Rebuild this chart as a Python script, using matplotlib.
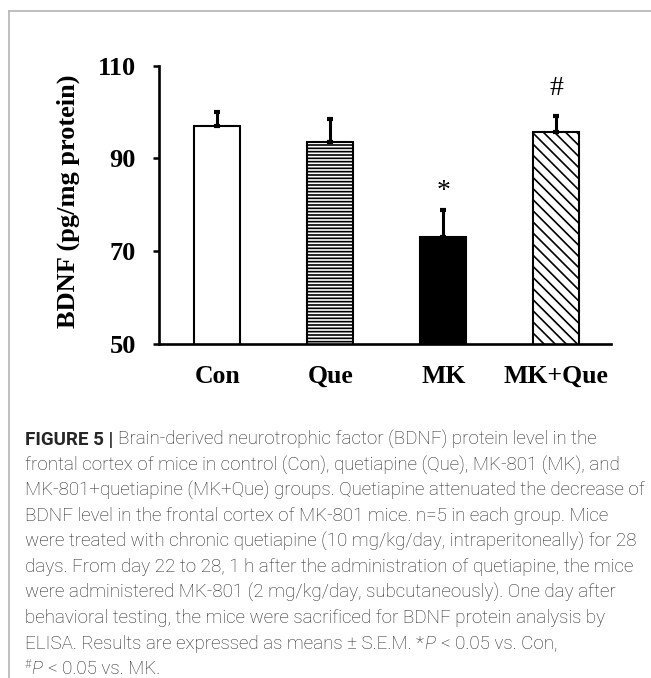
import matplotlib
matplotlib.use('Agg')
import matplotlib.pyplot as plt
from matplotlib.lines import Line2D

# ---- data ----
groups = ['Con', 'Que', 'MK', 'MK+Que']
means = [97.0, 93.6, 73.1, 95.6]
sems = [3.1, 4.9, 5.8, 3.6]
marks = ['', '', '*', '#']
yticks = [50, 70, 90, 110]

caption_lines = [
    [("FIGURE 5 |", 'b'), ("Brain-derived neurotrophic factor (BDNF) protein level in the", 'r')],
    [("frontal cortex of mice in control (Con), quetiapine (Que), MK-801 (MK), and", 'r')],
    [("MK-801+quetiapine (MK+Que) groups. Quetiapine attenuated the decrease of", 'r')],
    [("BDNF level in the frontal cortex of MK-801 mice. n=5 in each group. Mice", 'r')],
    [("were treated with chronic quetiapine (10 mg/kg/day, intraperitoneally) for 28", 'r')],
    [("days. From day 22 to 28, 1 h after the administration of quetiapine, the mice", 'r')],
    [("were administered MK-801 (2 mg/kg/day, subcutaneously). One day after", 'r')],
    [("behavioral testing, the mice were sacrificed for BDNF protein analysis by", 'r')],
    [("ELISA. Results are expressed as means \u00b1 S.E.M.", 'r'), ("*", 'r0'), ("P", 'i'), ("< 0.05 vs. Con,", 'r')],
    [("#", 'sup'), ("P", 'i'), ("< 0.05 vs. MK.", 'r')],
]

W, H = 651, 678
plt.rcParams['hatch.linewidth'] = 1.2
fig = plt.figure(figsize=(W / 100, H / 100), dpi=100)
fig.patch.set_facecolor('white')

# frame lines (top and left)
fig.add_artist(Line2D([9 / W, 1.0], [1 - 11 / H, 1 - 11 / H], transform=fig.transFigure,
                      color='#b4b4b4', lw=1.2))
fig.add_artist(Line2D([9 / W, 9 / W], [1 - 11 / H, 0.0], transform=fig.transFigure,
                      color='#b4b4b4', lw=1.2))

ax = fig.add_axes([159 / W, 1 - 344 / H, 452 / W, (344 - 65.7) / H])
x = list(range(len(groups)))
faces = ['white', 'white', 'black', 'white']
hatches = ['', '-----', '', '\\\\\\']
bars = ax.bar(x, means, width=0.41, color=faces, edgecolor='black', linewidth=1.5, zorder=2)
for b, h in zip(bars, hatches):
    b.set_hatch(h)
ax.errorbar(x, means, yerr=[[0] * len(sems), sems], fmt='none', ecolor='black',
            elinewidth=2.2, capsize=2.5, capthick=3, zorder=3)

serif = 'Liberation Serif'
mark_gap = {'*': 2.5, '#': 4.5}
for xi, m, s, mk in zip(x, means, sems, marks):
    if mk:
        ax.text(xi, m + s + mark_gap[mk], mk, ha='center', va='baseline', fontsize=20,
                family=serif, color='black')

ax.set_xlim(-0.515, 3.485)
ax.set_ylim(50, 110)
ax.set_yticks(yticks)
ax.set_yticklabels([str(v) for v in yticks], fontsize=19, family=serif, fontweight='bold')
ax.set_xticks(x)
ax.set_xticklabels(groups, fontsize=18.5, family=serif, fontweight='bold')
ax.tick_params(axis='y', length=4.5, width=1.8, pad=12, direction='out')
ax.tick_params(axis='x', length=0, pad=15)
for sp in ['top', 'right']:
    ax.spines[sp].set_visible(False)
for sp in ['left', 'bottom']:
    ax.spines[sp].set_linewidth(1.9)

fig.text(68 / W, 1 - 201 / H, 'BDNF (pg/mg protein)', rotation=90, ha='center', va='center',
         fontsize=19, family=serif, fontweight='bold')

# ---- caption ----
r = fig.canvas.get_renderer()
cfs = 13.5
ccol = '#262626'
styles = {
    'r': dict(family='Roboto', fontweight='light', fontsize=cfs),
    'r0': dict(family='Roboto', fontweight='light', fontsize=cfs),
    'b': dict(family='Roboto', fontweight='bold', fontsize=cfs),
    'i': dict(family='Roboto', fontweight='light', style='italic', fontsize=cfs),
    'sup': dict(family='Roboto', fontweight='light', fontsize=cfs * 0.62),
}
space_px = cfs * 100 / 72 * 0.25
x0 = 25
for i, parts in enumerate(caption_lines):
    base = 445 + 25.44 * i
    xp = x0
    for j, (s, st) in enumerate(parts):
        dy = 6 if st == 'sup' else 0
        t = fig.text(xp / W, 1 - (base - dy) / H, s, ha='left', va='baseline',
                     color=ccol, **styles[st])
        bb = t.get_window_extent(renderer=r)
        gap = 0.0 if st in ('r0', 'sup') else space_px
        if st == 'i':
            gap = space_px + 1
        xp += bb.width + gap

fig.savefig('out.png', dpi=100, facecolor='white')
